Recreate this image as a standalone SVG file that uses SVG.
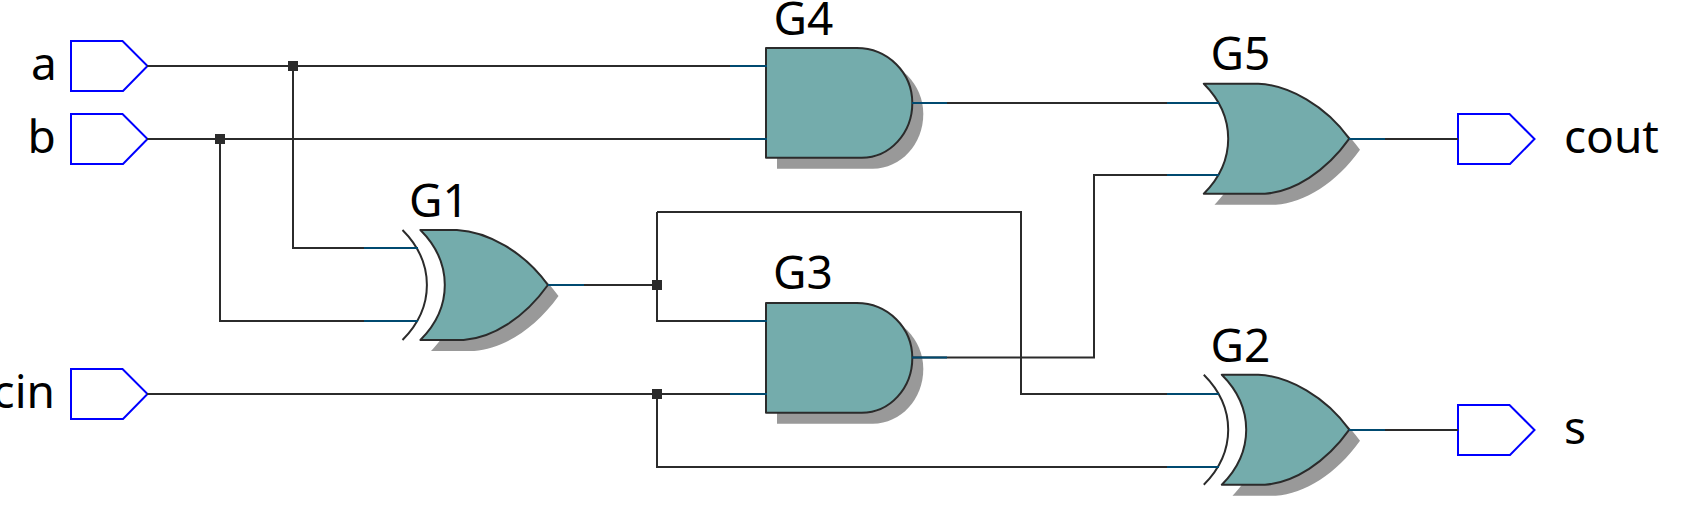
<svg xmlns="http://www.w3.org/2000/svg" width="1694" height="509" viewBox="0 0 1694 509">
<style>
text{font-family:"Noto Sans","Open Sans","DejaVu Sans",sans-serif;font-size:46px;fill:#000}
.body{fill:#74acac;stroke:#2b2b2b;stroke-width:2;stroke-linejoin:round}
.shadow{fill:#999;stroke:none}
.back{fill:none;stroke:#2b2b2b;stroke-width:2}
.pin{fill:#fff;stroke:#00f;stroke-width:2}
.wire{fill:none;stroke:#2b2b2b;stroke-width:2}
.stub{fill:none;stroke:#004a70;stroke-width:2}
.dot{fill:#2b2b2b}
</style>
<defs>
<path id="and" d="M0,0H90.700C122,0 146.300,25 146.300,55C146.300,85 124,109.700 95.700,109.700H0Z"/>
<path id="or" d="M0,0H54.500C85,1.500 122,22 145.500,55C122,88 90,108 61.200,110H0C13,97 24.400,78 24.400,55C24.400,32 13,13 0,0Z"/>
<path id="xor" d="M0,0H36.500C67,1.500 104,22 127.500,55C104,88 72,108 43.200,110H0C13,97 24.400,78 24.400,55C24.400,32 13,13 0,0Z"/>
<path id="arc" d="M0,0C13,13 24.400,32 24.400,55C24.400,78 13,97 0,110"/>
<path id="pent" d="M0,0H51.500L76.500,25L52,50H0Z"/>
<rect id="j" x="-5" y="-5" width="10" height="10"/>
</defs>
<g id="in_a"><use href="#pent" class="pin" x="71" y="41"/><text x="31" y="79.500">a</text></g>
<g id="in_b"><use href="#pent" class="pin" x="71" y="114"/><text x="27.500" y="152.500">b</text></g>
<g id="in_cin"><use href="#pent" class="pin" x="71" y="369"/><text x="55" y="408" text-anchor="end">cin</text></g>
<g id="G1"><use href="#xor" class="shadow" x="431" y="241"/><use href="#arc" class="back" x="402.500" y="230"/><use href="#xor" class="body" x="420.400" y="230"/><text x="409" y="217">G1</text></g>
<g id="G2"><use href="#xor" class="shadow" x="1232.500" y="385.700"/><use href="#arc" class="back" x="1203.800" y="374.700"/><use href="#xor" class="body" x="1221.800" y="374.700"/><text x="1210.500" y="361.500">G2</text></g>
<g id="G3"><use href="#and" class="shadow" x="777" y="314"/><use href="#and" class="body" x="766" y="303"/><text x="773" y="289">G3</text></g>
<g id="G4"><use href="#and" class="shadow" x="777" y="59"/><use href="#and" class="body" x="766" y="48"/><text x="773.500" y="35">G4</text></g>
<g id="G5"><use href="#or" class="shadow" x="1214.500" y="94.700"/><use href="#or" class="body" x="1203.800" y="83.700"/><text x="1210.500" y="70">G5</text></g>
<g id="out_cout"><use href="#pent" class="pin" x="1458" y="114"/><text x="1564" y="152.500">cout</text></g>
<g id="out_s"><use href="#pent" class="pin" x="1458" y="405"/><text x="1564" y="444">s</text></g>
<g id="connectors">
<path class="wire" d="M147,66H767M293,66V248H418"/>
<path class="wire" d="M147,139H767M220,139V321H418"/>
<path class="wire" d="M147,394H767M657,394V467H1219"/>
<path class="wire" d="M548,285H657M657,212V321H767M657,212H1021V394H1219"/>
<path class="wire" d="M912,103H1219"/>
<path class="wire" d="M912,357.500H1094V175H1219"/>
<path class="wire" d="M1349,139H1458"/>
<path class="wire" d="M1349,430H1458"/>
<path class="stub" d="M364,248H418M364,321H418M548,285H584M730,66H767M730,139H767M730,321H767M730,394H767M912,103H947M912,357.500H947M1167,103H1219M1167,175H1219M1167,394H1219M1167,467H1219M1349,139H1385M1349,430H1385"/>
<use href="#j" class="dot" x="293" y="66"/>
<use href="#j" class="dot" x="220" y="139"/>
<use href="#j" class="dot" x="657" y="285"/>
<use href="#j" class="dot" x="657" y="394"/>
</g>
</svg>
